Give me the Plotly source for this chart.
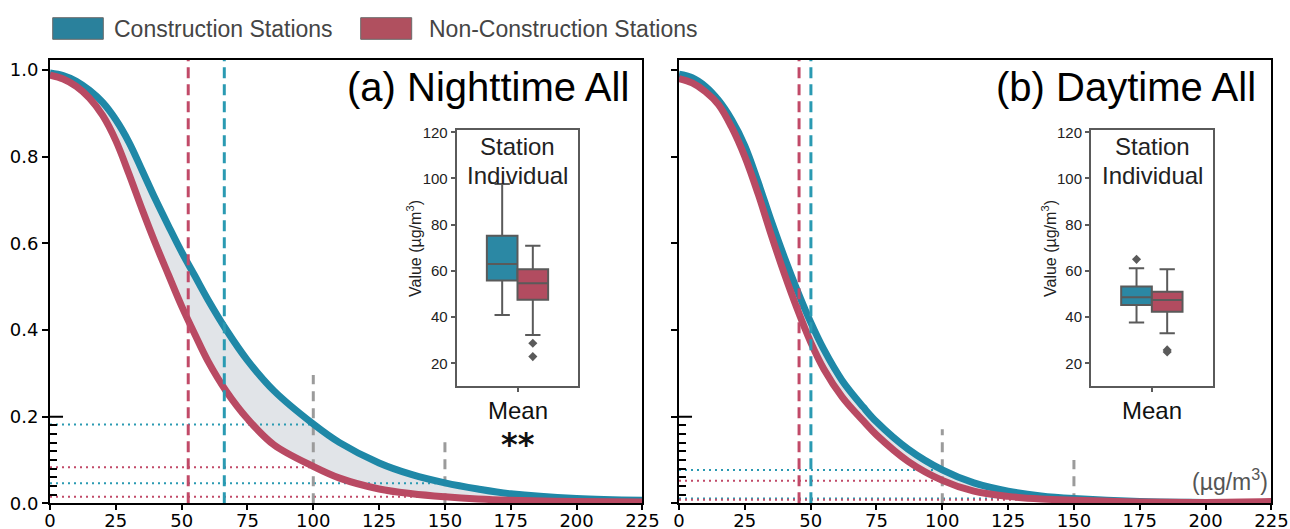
import plotly.graph_objects as go

# ---------------- data ----------------
# Exceedance (survival) curves, panel (a) Nighttime All
x_a = [0, 5, 10, 15, 20, 25, 30, 35, 40, 45, 50, 55, 60, 67, 75, 85, 100, 110, 125, 137.5, 150, 162.5, 175, 200, 225]
teal_a = [0.993, 0.987, 0.974, 0.953, 0.925, 0.885, 0.833, 0.768, 0.702, 0.64, 0.58, 0.525, 0.47, 0.40, 0.33, 0.26, 0.183, 0.14, 0.093, 0.066, 0.047, 0.033, 0.022, 0.011, 0.007]
red_a = [0.988, 0.979, 0.962, 0.935, 0.895, 0.837, 0.76, 0.678, 0.60, 0.527, 0.455, 0.39, 0.328, 0.258, 0.195, 0.135, 0.085, 0.058, 0.033, 0.022, 0.015, 0.010, 0.007, 0.004, 0.003]

# panel (b) Daytime All
x_b = [0, 5, 10, 15, 20, 25, 30, 35, 40, 45, 50, 55, 62, 70, 75, 87, 100, 112, 125, 137.5, 150, 175, 200, 225]
teal_b = [0.99, 0.982, 0.962, 0.93, 0.885, 0.825, 0.742, 0.652, 0.568, 0.49, 0.418, 0.355, 0.283, 0.222, 0.188, 0.125, 0.077, 0.047, 0.028, 0.017, 0.011, 0.004, 0.002, 0.001]
red_b = [0.98, 0.97, 0.95, 0.92, 0.868, 0.80, 0.715, 0.62, 0.53, 0.447, 0.372, 0.31, 0.245, 0.19, 0.158, 0.097, 0.053, 0.028, 0.016, 0.010, 0.007, 0.003, 0.002, 0.004]

# means (vertical dashed lines)
mean_a = {"teal": 66.2, "red": 52.5}
mean_b = {"teal": 50.1, "red": 45.6}

# reference thresholds (gray dashed) and their heights
thresholds = [100, 150]
thr_height_a = [0.296, 0.153]
thr_height_b = [0.171, 0.10]

# exceedance levels at thresholds (dotted)
exc_teal_a = [0.182, 0.046]
exc_red_a = [0.083, 0.015]
exc_teal_b = [0.077, 0.011]
exc_red_b = [0.052, 0.008]

# inset boxplots: q1, median, q3, lower whisker, upper whisker, outliers
box_a = {
    "teal": dict(q1=55.8, med=63.0, q3=75.2, lo=40.9, hi=97.6, out=[]),
    "red": dict(q1=47.5, med=54.6, q3=60.7, lo=32.3, hi=70.9, out=[28.7, 22.9]),
}
box_b = {
    "teal": dict(q1=45.2, med=48.6, q3=53.2, lo=37.7, hi=61.1, out=[65.0]),
    "red": dict(q1=42.3, med=47.4, q3=51.0, lo=33.0, hi=60.7, out=[25.8, 24.9]),
}

x_ticks = [0, 25, 50, 75, 100, 125, 150, 175, 200, 225]
y_ticks = [0.0, 0.2, 0.4, 0.6, 0.8, 1.0]
y_ticklabels = ["0.0", "0.2", "0.4", "0.6", "0.8", "1.0"]
y_minor = [0.02, 0.04, 0.06, 0.08, 0.10, 0.12, 0.14, 0.16, 0.18]
inset_ticks = [20, 40, 60, 80, 100, 120]

# ---------------- style ----------------
TEAL = "#1f88a7"
RED = "#b94a63"
TEAL_D = "#2a9ab2"
RED_D = "#c14a68"
BOX_TEAL = "#2b88a4"
BOX_RED = "#b24c60"
FILL = "rgba(222,225,229,0.9)"
GRAY = "#9b9b9b"
W, H = 1290, 529
TICKFONT = dict(family="DejaVu Sans", size=18, color="black")
SANS = "Liberation Sans, Arial"


def px(xp):
    return xp / W


def py(yp):
    return (H - yp) / H


fig = go.Figure()

YMAX = 1.023


def add_panel(xs, teal, red, means, thr_h, exc_t, exc_r, xa, ya):
    # fill between curves
    fig.add_trace(go.Scatter(x=xs, y=teal, mode="lines", line=dict(width=0, shape="spline"),
                             xaxis=xa, yaxis=ya, showlegend=False, hoverinfo="skip"))
    fig.add_trace(go.Scatter(x=xs, y=red, mode="lines", line=dict(width=0, shape="spline"),
                             fill="tonexty", fillcolor=FILL,
                             xaxis=xa, yaxis=ya, showlegend=False, hoverinfo="skip"))
    # dotted exceedance levels
    for lvl, thr, col in [(exc_t[0], thresholds[0], TEAL_D), (exc_r[0], thresholds[0], RED_D),
                          (exc_t[1], thresholds[1], TEAL_D), (exc_r[1], thresholds[1], RED_D)]:
        fig.add_trace(go.Scatter(x=[0, thr], y=[lvl, lvl], mode="lines",
                                 line=dict(color=col, width=2, dash="2px,4px"),
                                 xaxis=xa, yaxis=ya, showlegend=False, hoverinfo="skip"))
    # gray threshold lines
    for thr, h in zip(thresholds, thr_h):
        fig.add_trace(go.Scatter(x=[thr, thr], y=[0, h], mode="lines",
                                 line=dict(color=GRAY, width=3, dash="10px,7px"),
                                 xaxis=xa, yaxis=ya, showlegend=False, hoverinfo="skip"))
    # curves
    fig.add_trace(go.Scatter(x=xs, y=teal, mode="lines", line=dict(color=TEAL, width=7, shape="spline"),
                             xaxis=xa, yaxis=ya, showlegend=False))
    fig.add_trace(go.Scatter(x=xs, y=red, mode="lines", line=dict(color=RED, width=7, shape="spline"),
                             xaxis=xa, yaxis=ya, showlegend=False))
    # mean lines
    for key, col in [("red", RED_D), ("teal", TEAL_D)]:
        fig.add_trace(go.Scatter(x=[means[key], means[key]], y=[0, YMAX], mode="lines",
                                 line=dict(color=col, width=3, dash="11px,6px"),
                                 xaxis=xa, yaxis=ya, showlegend=False, hoverinfo="skip"))


add_panel(x_a, teal_a, red_a, mean_a, thr_height_a, exc_teal_a, exc_red_a, "x", "y")
add_panel(x_b, teal_b, red_b, mean_b, thr_height_b, exc_teal_b, exc_red_b, "x2", "y2")

BOXW = 0.252


def add_inset(box, xa, ya):
    for key, pos, col in [("teal", -BOXW / 2, BOX_TEAL), ("red", BOXW / 2, BOX_RED)]:
        b = box[key]
        fig.add_trace(go.Box(x=[pos], q1=[b["q1"]], median=[b["med"]], q3=[b["q3"]],
                             lowerfence=[b["lo"]], upperfence=[b["hi"]],
                             width=BOXW, whiskerwidth=0.5, fillcolor=col,
                             line=dict(color="#5a5a5a", width=2), boxpoints=False,
                             xaxis=xa, yaxis=ya, showlegend=False))
        if b["out"]:
            fig.add_trace(go.Scatter(x=[pos] * len(b["out"]), y=b["out"], mode="markers",
                                     marker=dict(symbol="diamond", size=7, color="#5a5a5a"),
                                     xaxis=xa, yaxis=ya, showlegend=False))


add_inset(box_a, "x3", "y3")
add_inset(box_b, "x4", "y4")

main_y_dom = [py(503.3), py(60)]
ax_common = dict(showline=True, linecolor="black", linewidth=2, mirror=True,
                 ticks="outside", tickwidth=1.5, tickcolor="black",
                 showgrid=False, zeroline=False, tickfont=TICKFONT, automargin=False)

inset_y_dom = [py(385.7), py(129.5)]
inset_x = dict(range=[-0.5, 0.5], showline=True, linecolor="#5a5a5a", linewidth=2, mirror=True,
               ticks="outside", ticklen=4, tickwidth=1.5, tickcolor="#5a5a5a",
               tickvals=[0], showticklabels=False, showgrid=False, zeroline=False, automargin=False)
inset_y = dict(range=[10.3, 121.2], showline=True, linecolor="#5a5a5a", linewidth=2, mirror=True,
               ticks="outside", ticklen=4, tickwidth=1.5, tickcolor="#5a5a5a",
               tickvals=inset_ticks, tickfont=dict(family=SANS, size=15, color="#222"),
               showgrid=False, zeroline=False, automargin=False)

minor_cfg = dict(tickvals=y_minor, ticks="inside", ticklen=7, tickwidth=1.5, tickcolor="black")

fig.update_layout(
    width=W, height=H,
    margin=dict(l=0, r=0, t=0, b=0, pad=0, autoexpand=False),
    paper_bgcolor="white", plot_bgcolor="rgba(0,0,0,0)",
    showlegend=False,
    xaxis=dict(domain=[px(50), px(642.4)], range=[0, 225], tickvals=x_ticks, anchor="y",
               ticklen=5, ticklabelstandoff=-5, **ax_common),
    yaxis=dict(domain=main_y_dom, range=[0, YMAX], tickvals=y_ticks, ticktext=y_ticklabels,
               anchor="x", ticklen=6, minor=minor_cfg, **ax_common),
    xaxis2=dict(domain=[px(679), px(1271.4)], range=[0, 225], tickvals=x_ticks, anchor="y2",
                ticklen=5, ticklabelstandoff=-5, **ax_common),
    yaxis2=dict(domain=main_y_dom, range=[0, YMAX], tickvals=y_ticks, showticklabels=False,
                anchor="x2", ticklen=6, minor=minor_cfg, **ax_common),
    xaxis3=dict(domain=[px(456.7), px(578.3)], anchor="y3", **inset_x),
    yaxis3=dict(domain=inset_y_dom, anchor="x3", **inset_y),
    xaxis4=dict(domain=[px(1091), px(1212.7)], anchor="y4", **inset_x),
    yaxis4=dict(domain=inset_y_dom, anchor="x4", **inset_y),
)

shapes = []
# long inside tick at 0.2
for xr, yr in [("x domain", "y"), ("x2 domain", "y2")]:
    shapes.append(dict(type="line", xref=xr, yref=yr, x0=0, x1=0.022, y0=0.2, y1=0.2,
                       line=dict(color="black", width=2)))
# legend patches
shapes.append(dict(type="rect", xref="paper", yref="paper", x0=px(52.7), x1=px(103.3), y0=py(39.3), y1=py(17.7),
                   fillcolor="#2a819c", line=dict(color="#6a6a6a", width=1)))
shapes.append(dict(type="rect", xref="paper", yref="paper", x0=px(360.7), x1=px(411.7), y0=py(39.3), y1=py(17.7),
                   fillcolor="#b0505f", line=dict(color="#6a6a6a", width=1)))
fig.update_layout(shapes=shapes)

ann = []
ann.append(dict(text="Construction Stations", x=px(112), y=py(29), xref="paper", yref="paper",
                xanchor="left", yanchor="middle", showarrow=False,
                font=dict(family=SANS, size=23, color="#454545")))
ann.append(dict(text="Non-Construction Stations", x=px(427), y=py(29), xref="paper", yref="paper",
                xanchor="left", yanchor="middle", showarrow=False,
                font=dict(family=SANS, size=23, color="#454545")))
ann.append(dict(text="(a) Nighttime All", x=px(631), y=py(87), xref="paper", yref="paper",
                xanchor="right", yanchor="middle", showarrow=False,
                font=dict(family=SANS, size=40, color="black")))
ann.append(dict(text="(b) Daytime All", x=px(1258), y=py(87), xref="paper", yref="paper",
                xanchor="right", yanchor="middle", showarrow=False,
                font=dict(family=SANS, size=40, color="black")))
for cx in [517.5, 1152]:
    ann.append(dict(text="Station", x=px(cx), y=py(146.7), xref="paper", yref="paper",
                    xanchor="center", yanchor="middle", showarrow=False,
                    font=dict(family=SANS, size=24, color="#222")))
    ann.append(dict(text="Individual", x=px(cx), y=py(175), xref="paper", yref="paper",
                    xanchor="center", yanchor="middle", showarrow=False,
                    font=dict(family=SANS, size=24, color="#222")))
    ann.append(dict(text="Mean", x=px(cx), y=py(410), xref="paper", yref="paper",
                    xanchor="center", yanchor="middle", showarrow=False,
                    font=dict(family=SANS, size=24, color="#111")))
for lx in [414, 1049]:
    ann.append(dict(text="Value (µg/m<sup>3</sup>)", x=px(lx), y=py(249), xref="paper", yref="paper",
                    xanchor="center", yanchor="middle", showarrow=False, textangle=-90,
                    font=dict(family=SANS, size=16, color="#222")))
ann.append(dict(text="<b>**</b>", x=px(517.5), y=py(444), xref="paper", yref="paper",
                xanchor="center", yanchor="middle", showarrow=False,
                font=dict(family="DejaVu Sans", size=32, color="#111")))
ann.append(dict(text="(µg/m<sup>3</sup>)", x=px(1270), y=py(480), xref="paper", yref="paper",
                xanchor="right", yanchor="middle", showarrow=False,
                font=dict(family=SANS, size=23, color="#555")))
fig.update_layout(annotations=ann)

fig.write_html(
    "out.html",
    config={"displayModeBar": False},
    post_script="document.body.style.margin='0px';document.body.style.padding='0px';"
                "document.body.style.overflow='hidden';",
)
